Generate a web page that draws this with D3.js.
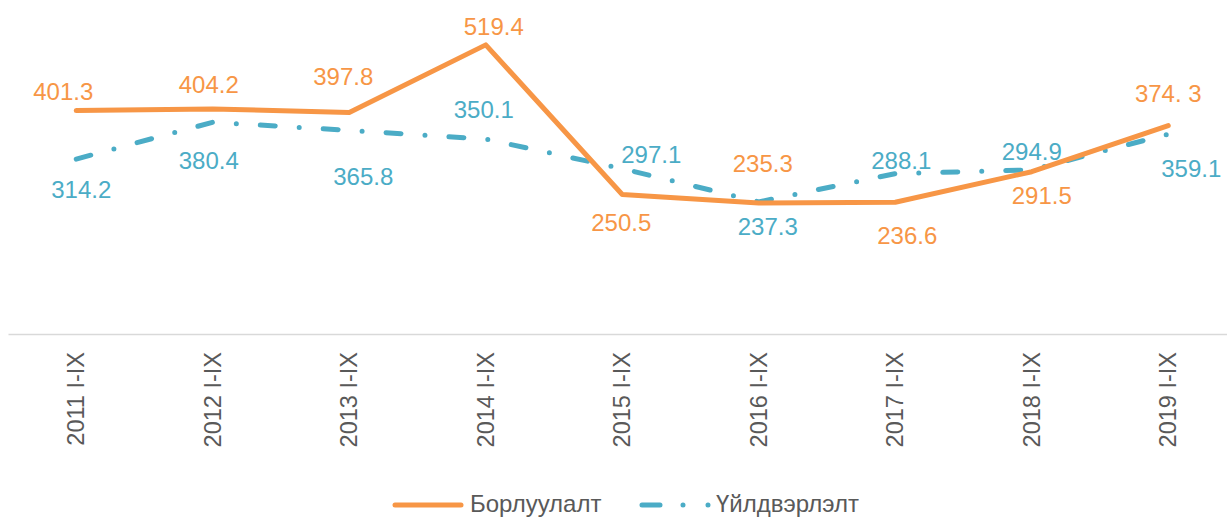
<!DOCTYPE html>
<html lang="mn">
<head>
<meta charset="UTF-8">
<title>Борлуулалт, Үйлдвэрлэлт</title>
<script src="https://d3js.org/d3.v7.min.js"></script>
<style>
  body { margin: 0; background: #fff; }
  svg { display: block; font-family: "Liberation Sans", Arial, sans-serif; }
</style>
</head>
<body>
<svg id="chart"></svg>
<script>
// data
const categories = ["2011 I-IX", "2012 I-IX", "2013 I-IX", "2014 I-IX", "2015 I-IX",
                    "2016 I-IX", "2017 I-IX", "2018 I-IX", "2019 I-IX"];
const sales      = [401.3, 404.2, 397.8, 519.4, 250.5, 235.3, 236.6, 291.5, 374.3];
const salesText  = ["401.3", "404.2", "397.8", "519.4", "250.5", "235.3", "236.6", "291.5", "374. 3"];
const production = [314.2, 380.4, 365.8, 350.1, 297.1, 237.3, 288.1, 294.9, 359.1];
const seriesNames = ["Борлуулалт", "Үйлдвэрлэлт"];

// label offsets from the point (style only)
const salesLabelOff = [[-13, -19], [-4, -24], [-6, -36], [8, -18], [-1, 28], [4, -39], [12, 33], [10, 24], [0, -32]];
const prodLabelOff  = [[5, 31], [-4, 38], [14, 46], [-2, -30], [29, -14], [9, 25], [6, -13], [0, -18], [23, 34]];

const width = 1227, height = 518;
const orange = "#F79646", blue = "#4BACC6";

const svg = d3.select("#chart").attr("width", width).attr("height", height);

const x = d3.scaleBand().domain(categories).range([8, 1236.5]).padding(0);
const y = d3.scaleLinear().domain([0, 600]).range([334, 0]);
const cx = c => x(c) + x.bandwidth() / 2;

// axis
const axis = svg.append("g")
  .attr("transform", "translate(0,334)")
  .call(d3.axisBottom(x).tickSize(0).tickSizeOuter(0));
axis.select(".domain").attr("stroke", "#D9D9D9").attr("stroke-width", 1.5);
axis.selectAll(".tick text")
  .attr("transform", "rotate(-90)")
  .attr("x", -18).attr("y", 0).attr("dy", "0.35em")
  .attr("text-anchor", "end")
  .attr("fill", "#595959")
  .style("font-size", "23.5px")
  .style("font-family", "'Liberation Sans', Arial, sans-serif");

const line = d3.line().x((d, i) => cx(categories[i])).y(d => y(d));

svg.append("path")
  .datum(production)
  .attr("d", line)
  .attr("fill", "none")
  .attr("stroke", blue)
  .attr("stroke-width", 5)
  .attr("stroke-linecap", "round")
  .attr("stroke-dasharray", "15,24,0,24");

svg.append("path")
  .datum(sales)
  .attr("d", line)
  .attr("fill", "none")
  .attr("stroke", orange)
  .attr("stroke-width", 5)
  .attr("stroke-linejoin", "round")
  .attr("stroke-linecap", "round");

// data labels
svg.append("g").selectAll("text")
  .data(sales)
  .join("text")
    .attr("x", (d, i) => cx(categories[i]) + salesLabelOff[i][0])
    .attr("y", (d, i) => y(d) + salesLabelOff[i][1])
    .attr("dy", "0.35em")
    .attr("text-anchor", "middle")
    .attr("fill", orange)
    .style("font-size", "24px")
    .text((d, i) => salesText[i]);

svg.append("g").selectAll("text")
  .data(production)
  .join("text")
    .attr("x", (d, i) => cx(categories[i]) + prodLabelOff[i][0])
    .attr("y", (d, i) => y(d) + prodLabelOff[i][1])
    .attr("dy", "0.35em")
    .attr("text-anchor", "middle")
    .attr("fill", blue)
    .style("font-size", "24px")
    .text(d => d3.format(".1f")(d));

// legend
const legend = svg.append("g");
legend.append("line")
  .attr("x1", 395).attr("x2", 461).attr("y1", 505).attr("y2", 505)
  .attr("stroke", orange).attr("stroke-width", 5).attr("stroke-linecap", "round");
legend.append("text")
  .attr("x", 470).attr("y", 512)
  .attr("fill", "#595959").style("font-size", "24px")
  .text(seriesNames[0]);
legend.append("line")
  .attr("x1", 642).attr("x2", 710).attr("y1", 505).attr("y2", 505)
  .attr("stroke", blue).attr("stroke-width", 5).attr("stroke-linecap", "round")
  .attr("stroke-dasharray", "18,23,0,25,0,40");
legend.append("text")
  .attr("x", 716).attr("y", 512)
  .attr("fill", "#595959").style("font-size", "24px")
  .text(seriesNames[1]);
</script>
</body>
</html>
